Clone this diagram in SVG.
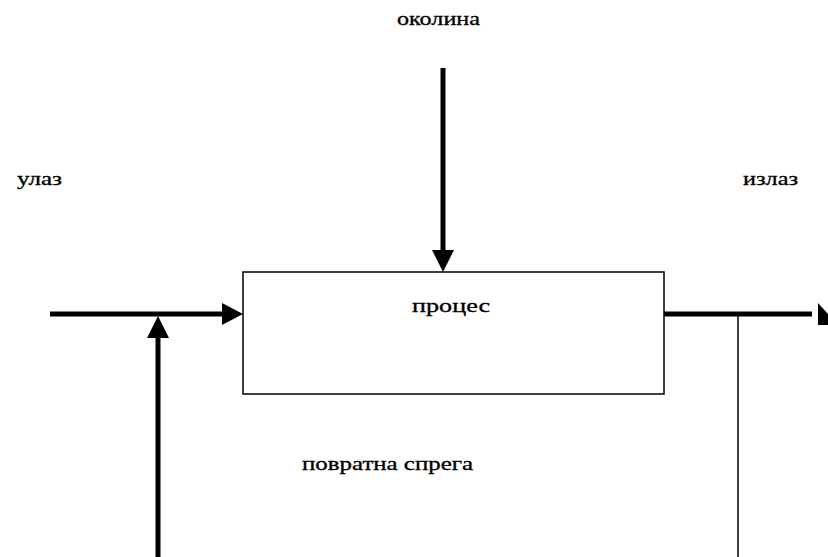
<svg xmlns="http://www.w3.org/2000/svg" width="828" height="557" viewBox="0 0 828 557">
<style>
text{font-family:"Liberation Serif","DejaVu Serif",serif;font-size:18px;fill:#000;stroke:#000;stroke-width:0.3}
.thick{stroke:#000;stroke-width:5;fill:none}
.thin{stroke:#000;stroke-width:1.5;fill:none}
.head{fill:#000}
</style>
<rect width="828" height="557" fill="#fff"/>
<g id="labels">
<text x="397" y="25" textLength="83" lengthAdjust="spacingAndGlyphs">околина</text>
<text x="17" y="185" textLength="45" lengthAdjust="spacingAndGlyphs">улаз</text>
<text x="743" y="185" textLength="55" lengthAdjust="spacingAndGlyphs">излаз</text>
<text x="302" y="470" textLength="171" lengthAdjust="spacingAndGlyphs">повратна спрега</text>
</g>
<g id="process">
<rect x="243" y="272" width="421" height="122" fill="#fff" stroke="#000" stroke-width="1.5"/>
<text x="412" y="312" textLength="78" lengthAdjust="spacingAndGlyphs">процес</text>
</g>
<g id="connectors">
<line class="thick" x1="50" y1="314" x2="224" y2="314"/>
<polygon class="head" points="243,314 222,303 222,325"/>
<line class="thick" x1="158" y1="557" x2="158" y2="336"/>
<polygon class="head" points="158,316 147,338 169,338"/>
<line class="thick" x1="443" y1="68" x2="443" y2="252"/>
<polygon class="head" points="443,272 432,250 454,250"/>
<line class="thick" x1="664" y1="314" x2="812" y2="314"/>
<polygon class="head" points="828,314 818,303 818,325 828,325"/>
<line class="thin" x1="738" y1="314" x2="738" y2="557"/>
</g>
</svg>
